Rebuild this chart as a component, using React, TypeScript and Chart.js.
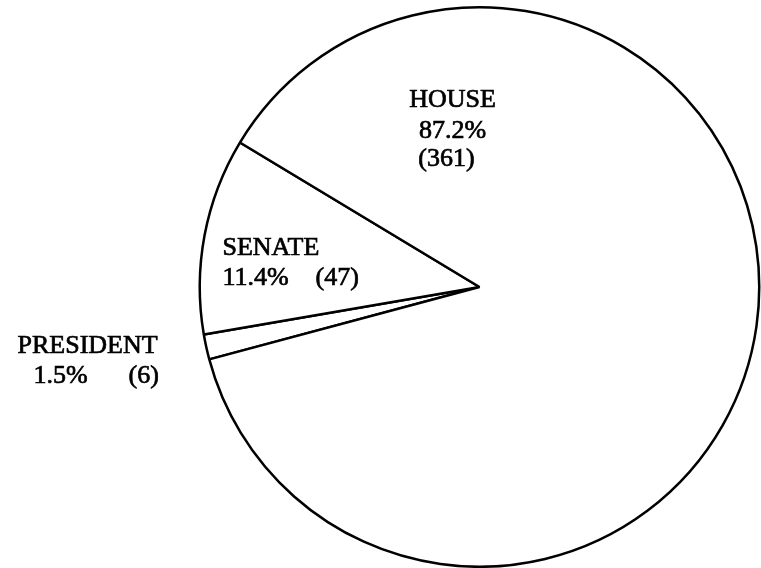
// Pie chart of the three offices, drawn on a canvas with Chart.js
import { useEffect, useRef } from 'react';
import { Chart, ArcElement, PieController, Plugin } from 'chart.js';

Chart.register(ArcElement, PieController);

const offices = ['PRESIDENT', 'SENATE', 'HOUSE'];
const counts = [6, 47, 361];
const percents = ['1.5%', '11.4%', '87.2%'];

const FONT = '26px "Liberation Serif", "Times New Roman", serif';

// Slice labels, placed relative to the pie centre
const sliceLabels: Plugin<'pie'> = {
	id: 'sliceLabels',
	afterDraw(chart) {
		const arc = chart.getDatasetMeta(0).data[0] as any;
		if (!arc) return;
		const cx = arc.x;
		const cy = arc.y;
		const ctx = chart.ctx;
		ctx.save();
		ctx.fillStyle = '#000';
		ctx.strokeStyle = '#000';
		ctx.lineWidth = 0.7;
		ctx.font = FONT;
		ctx.textBaseline = 'alphabetic';
		// scanned print looks a bit heavier than plain fill
		const put = (s: string, x: number, y: number) => {
			ctx.fillText(s, x, y);
			ctx.strokeText(s, x, y);
		};

		// President, outside the pie on the left
		ctx.textAlign = 'left';
		put(offices[0], cx - 462, cy + 66);
		put(percents[0], cx - 446, cy + 96);
		put(`(${counts[0]})`, cx - 351, cy + 96);

		// Senate, inside its slice
		put(offices[1], cx - 257, cy - 32);
		put(percents[1], cx - 257, cy - 2);
		put(`(${counts[1]})`, cx - 164, cy - 2);

		// House, centred in the upper part
		ctx.textAlign = 'center';
		put(offices[2], cx - 27, cy - 180);
		put(percents[2], cx - 27, cy - 149);
		put(`(${counts[2]})`, cx - 33, cy - 121);
		ctx.restore();
	},
};

export default function App() {
	const canvasRef = useRef<HTMLCanvasElement>(null);

	useEffect(() => {
		if (!canvasRef.current) return;
		const chart = new Chart(canvasRef.current, {
			type: 'pie',
			data: {
				labels: offices,
				datasets: [
					{
						data: counts,
						backgroundColor: '#ffffff',
						borderColor: '#000000',
						borderWidth: 2.5,
						borderAlign: 'center',
					},
				],
			},
			options: {
				responsive: false,
				animation: false,
				rotation: 255,
				layout: {
					padding: { left: 198, top: 6, right: 0, bottom: 0 },
				},
				plugins: {
					legend: { display: false },
					tooltip: { enabled: false },
				},
			},
			plugins: [sliceLabels],
		});
		return () => chart.destroy();
	}, []);

	return (
		<div style={{ position: 'absolute', left: 0, top: 0, width: 761, height: 568, background: '#fff' }}>
			<canvas ref={canvasRef} width={761} height={568}></canvas>
		</div>
	);
}
